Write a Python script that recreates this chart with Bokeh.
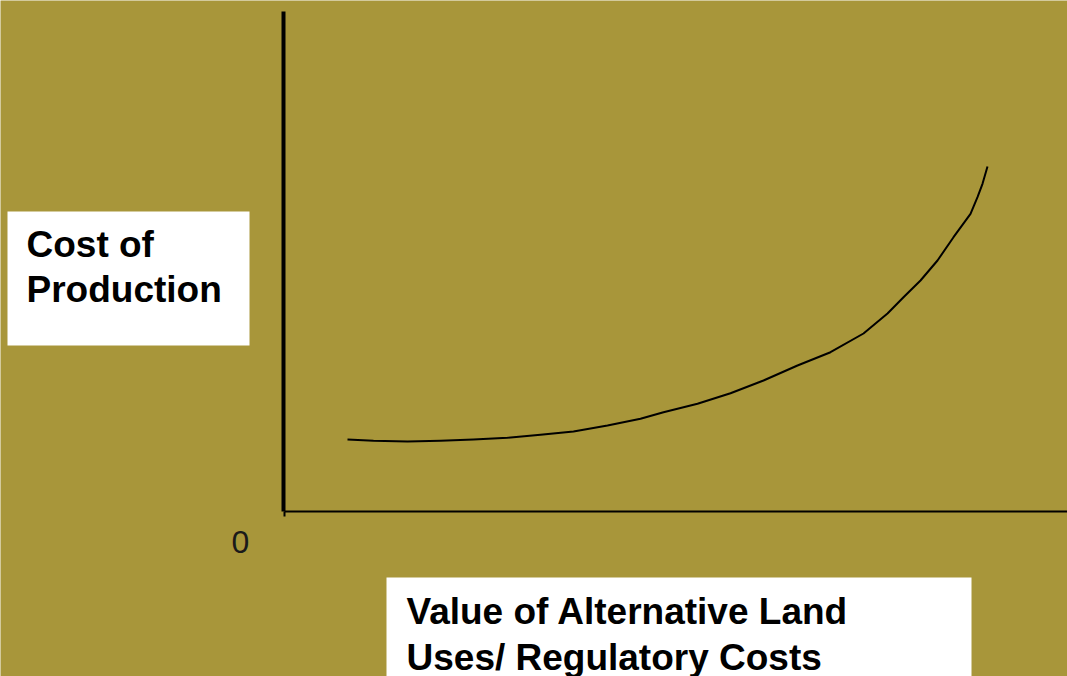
from bokeh.plotting import figure
from bokeh.models import Range1d
from bokeh.core.properties import value
from bokeh.embed import file_html
from bokeh.resources import INLINE

# Curve: cost of production vs value of alternative land uses / regulatory costs
curve_x = [0.64, 0.90, 1.24, 1.57, 1.90, 2.24, 2.57, 2.90, 3.24, 3.57, 3.80,
           4.14, 4.47, 4.80, 5.14, 5.47, 5.80, 6.04, 6.20, 6.37, 6.54, 6.70,
           6.87, 6.94, 6.99, 7.04]
curve_y = [0.72, 0.707, 0.70, 0.707, 0.72, 0.737, 0.767, 0.80, 0.86, 0.927, 0.993,
           1.077, 1.183, 1.31, 1.46, 1.593, 1.78, 1.98, 2.143, 2.31, 2.51, 2.743,
           2.977, 3.143, 3.277, 3.45]

y_axis_top = 5.0
x_axis_right = 7.9
origin_label = "0"
y_label_lines = ["Cost of", "Production"]
x_label_lines = ["Value of Alternative Land", "Uses/ Regulatory Costs"]

BG = "#A8963A"

p = figure(width=1067, height=676, output_backend="svg", toolbar_location=None,
           x_range=Range1d(-2.83, 7.84), y_range=Range1d(-1.65, 5.11),
           min_border=0)
p.background_fill_color = BG
p.border_fill_color = BG
p.outline_line_color = None
p.xaxis.visible = False
p.yaxis.visible = False
p.xgrid.visible = False
p.ygrid.visible = False

# label boxes
p.quad(left=[-2.76], right=[-0.34], top=[3.00], bottom=[1.66],
       fill_color="white", line_color=None)
p.quad(left=[1.03], right=[6.88], top=[-0.66], bottom=[-1.70],
       fill_color="white", line_color=None)

# axes
p.line([0, 0], [0, y_axis_top], line_color="black", line_width=4)
p.line([0.01, x_axis_right], [0, 0], line_color="black", line_width=2)
p.line([0.01, 0.01], [0, -0.05], line_color="black", line_width=2)

# curve
p.line(curve_x, curve_y, line_color="black", line_width=2, line_join="round")

# texts
p.text(x=[-0.52], y=[-0.30], text=[origin_label], text_font=value("Liberation Sans"),
       text_font_size="32px", text_color="#1a1a1a", text_baseline="alphabetic")
p.text(x=[-2.57, -2.57], y=[2.675, 2.22], text=y_label_lines,
       text_font=value("Liberation Sans"), text_font_style="bold",
       text_font_size="37px", text_color="black", text_baseline="alphabetic")
p.text(x=[1.23, 1.23], y=[-0.995, -1.455], text=x_label_lines,
       text_font=value("Liberation Sans"), text_font_style="bold",
       text_font_size="37px", text_color="black", text_baseline="alphabetic")

open("out.html", "w").write(file_html(p, INLINE))
